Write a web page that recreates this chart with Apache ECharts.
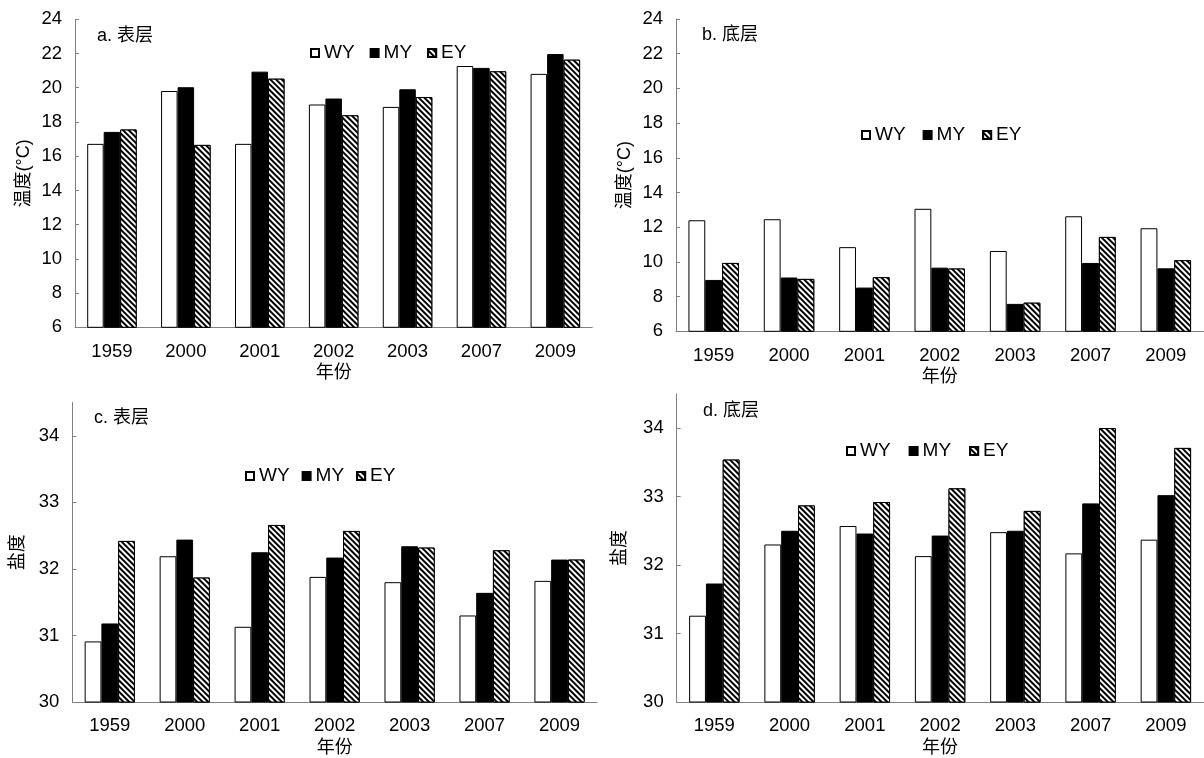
<!DOCTYPE html>
<html>
<head>
<meta charset="utf-8">
<script src="https://cdn.jsdelivr.net/npm/echarts@6/dist/echarts.min.js"></script>
<style>
html,body{margin:0;padding:0;background:#fff;}
#chart{width:1204px;height:758px;}
</style>
</head>
<body>
<div id="chart"></div>
<script>
// ---- data ----
const years = ['1959', '2000', '2001', '2002', '2003', '2007', '2009'];
const seriesNames = ['WY', 'MY', 'EY'];
const panelTitles = ['a. 表层', 'b. 底层', 'c. 表层', 'd. 底层'];
const yNames = ['温度(°C)', '温度(°C)', '盐度', '盐度'];
const xName = '年份';
const tempTicks = [6, 8, 10, 12, 14, 16, 18, 20, 22, 24];
const salTicks = [30, 31, 32, 33, 34];

// a. surface temperature
const tempSurfWY = [16.72, 19.81, 16.72, 19.02, 18.88, 21.27, 20.81];
const tempSurfMY = [17.42, 20.03, 20.94, 19.37, 19.91, 21.16, 21.97];
const tempSurfEY = [17.56, 16.66, 20.53, 18.39, 19.46, 20.96, 21.64];
// b. bottom temperature
const tempBotWY = [12.40, 12.46, 10.85, 13.06, 10.63, 12.63, 11.94];
const tempBotMY = [8.96, 9.10, 8.52, 9.67, 7.58, 9.94, 9.63];
const tempBotEY = [9.94, 9.02, 9.12, 9.62, 7.65, 11.44, 10.10];
// c. surface salinity
const salSurfWY = [30.91, 32.19, 31.13, 31.88, 31.80, 31.30, 31.82];
const salSurfMY = [31.18, 32.44, 32.25, 32.17, 32.34, 31.64, 32.14];
const salSurfEY = [32.42, 31.87, 32.66, 32.57, 32.32, 32.28, 32.14];
// d. bottom salinity
const salBotWY = [31.26, 32.30, 32.57, 32.13, 32.48, 32.17, 32.37];
const salBotMY = [31.73, 32.50, 32.46, 32.43, 32.50, 32.90, 33.02];
const salBotEY = [33.54, 32.87, 32.92, 33.12, 32.79, 34.00, 33.71];

// ---- layout / style ----
const FONT = '"Liberation Sans", Arial, "Noto Sans CJK SC", sans-serif';
const grids = [
  {left: 75, right: 611.7, top: 19.3, bottom: 430.7},
  {left: 676, right: 0.5, top: 19, bottom: 426.7},
  {left: 72.3, right: 607, top: 402.5, bottom: 52.5},
  {left: 676.7, right: 0.5, top: 393.8, bottom: 53.7}
];
const titlePos = [[97, 26], [702, 25], [94, 408], [703, 401]];
const legendPos = [
  {left: 310, top: 43, gap: 15},
  {left: 861, top: 125, gap: 17},
  {left: 245, top: 466, gap: 12},
  {left: 846, top: 441, gap: 18}
];
const yNameGap = [42, 42, 45, 48];
const axisGray = '#808080';

const hatch = {
  symbol: 'rect', symbolSize: 1,
  dashArrayX: [1, 0], dashArrayY: [2, 2],
  rotation: Math.PI / 4,
  color: '#000', backgroundColor: '#fff'
};
const styles = [
  {color: '#fff', borderColor: '#000', borderWidth: 1},
  {color: '#000', borderColor: '#000', borderWidth: 1},
  {color: '#fff', borderColor: '#000', borderWidth: 1, decal: hatch}
];

const panelData = [
  [tempSurfWY, tempSurfMY, tempSurfEY],
  [tempBotWY, tempBotMY, tempBotEY],
  [salSurfWY, salSurfMY, salSurfEY],
  [salBotWY, salBotMY, salBotEY]
];

const option = {
  animation: false,
  backgroundColor: '#fff',
  textStyle: {fontFamily: FONT},
  title: panelTitles.map((t, i) => ({
    text: t, left: titlePos[i][0], top: titlePos[i][1], padding: 0,
    textStyle: {fontSize: 18, fontWeight: 'normal', color: '#000', fontFamily: FONT, lineHeight: 20}
  })),
  legend: legendPos.map((p) => ({
    data: seriesNames, left: p.left, top: p.top, padding: 0,
    itemGap: p.gap, itemWidth: 8, itemHeight: 8, icon: 'rect',
    selectedMode: false,
    textStyle: {fontSize: 19, color: '#000', fontFamily: FONT, lineHeight: 20}
  })),
  grid: grids.map(g => Object.assign({containLabel: false}, g)),
  xAxis: grids.map((g, i) => ({
    type: 'category', gridIndex: i, data: years,
    name: xName, nameLocation: 'middle', nameGap: 37,
    nameTextStyle: {fontSize: 18, color: '#000', fontFamily: FONT},
    axisLine: {lineStyle: {color: axisGray, width: 1}},
    axisTick: {inside: true, length: 4, lineStyle: {color: axisGray}},
    axisLabel: {fontSize: 18.5, color: '#000', margin: 15, fontFamily: FONT, interval: 0},
    splitLine: {show: false}
  })),
  yAxis: grids.map((g, i) => {
    const isTemp = i < 2;
    const ticks = isTemp ? tempTicks : salTicks;
    return {
      type: 'value', gridIndex: i,
      min: isTemp ? 6 : 30, max: isTemp ? 24 : 34.5, interval: isTemp ? 2 : 1,
      name: yNames[i], nameLocation: 'middle', nameGap: yNameGap[i],
      nameTextStyle: {fontSize: 18, color: '#000', fontFamily: FONT},
      axisLine: {show: true, lineStyle: {color: axisGray, width: 1}},
      axisTick: {show: true, inside: true, length: 4, lineStyle: {color: axisGray}, customValues: ticks},
      axisLabel: {fontSize: 18.5, color: '#000', margin: 13, fontFamily: FONT, customValues: ticks},
      splitLine: {show: false}
    };
  }),
  series: []
};

panelData.forEach((sets, gi) => {
  sets.forEach((vals, si) => {
    option.series.push({
      type: 'bar', name: seriesNames[si],
      xAxisIndex: gi, yAxisIndex: gi,
      data: vals,
      barGap: '0%', barCategoryGap: '33%',
      itemStyle: styles[si],
      emphasis: {disabled: true}
    });
  });
});

const chart = echarts.init(document.getElementById('chart'), null, {renderer: 'canvas'});
chart.setOption(option);
</script>
</body>
</html>
